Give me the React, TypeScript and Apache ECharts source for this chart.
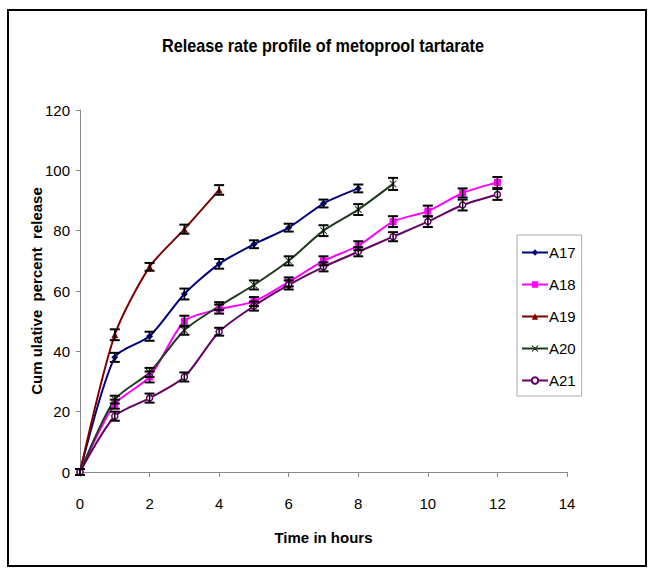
import React, { useEffect, useRef } from "react";
import * as echarts from "echarts";

const hours = [0, 1, 2, 3, 4, 5, 6, 7, 8, 9, 10, 11, 12];
const seriesNames = ["A17", "A18", "A19", "A20", "A21"];
const a17 = [0, 38, 45, 59, 69, 75.5, 81, 89, 94];
const a18 = [0, 22.5, 31.5, 50, 54, 56.5, 63, 70, 75, 83, 86.5, 92.5, 96];
const a19 = [0, 45.5, 68, 80.5, 93.5];
const a20 = [0, 24, 33, 47, 55, 62, 70, 80, 87, 95.5];
const a21 = [0, 18.5, 24.5, 31.5, 46.5, 55, 62, 68, 73, 78, 83, 88.5, 92];
const e17 = [1, 1.5, 1.5, 1.8, 1.6, 1.3, 1.3, 1.3, 1.3];
const e18 = [1, 1.5, 1.8, 1.8, 1.5, 1.5, 1.5, 1.5, 1.5, 1.8, 1.8, 1.5, 1.8];
const e19 = [1, 1.8, 1.3, 1.5, 1.6];
const e20 = [1, 1.3, 1.5, 1.5, 1.3, 1.5, 1.5, 1.8, 1.8, 2];
const e21 = [1, 1.5, 1.5, 1.5, 1.3, 1.5, 1.5, 1.5, 1.5, 1.5, 1.8, 1.8, 1.8];
const xTicks = [0, 2, 4, 6, 8, 10, 12, 14];
const titleText = "Release rate profile of metoprool tartarate";

const values = [a17, a18, a19, a20, a21];
const errors = [e17, e18, e19, e20, e21];
const colors = ["#000080", "#ff00ff", "#800000", "#1f3a1f", "#660066"];
const symbols = [
  "diamond",
  "rect",
  "triangle",
  "path://M0,0 L10,10 M10,0 L0,10 M0,0 L1,0 L10,9 L10,10 L9,10 L0,1 Z M10,0 L10,1 L1,10 L0,10 L0,9 L9,0 Z",
  "circle",
];

const FONT = "'Liberation Sans', Arial, sans-serif";

export default function App() {
  const ref = useRef<HTMLDivElement>(null);
  useEffect(() => {
    if (!ref.current) return;
    const chart = echarts.init(ref.current, null, { renderer: "svg" });
    const lineSeries = seriesNames.map((name, i) => ({
      name,
      type: "line",
      data: values[i].map((v, j) => [hours[j], v]),
      smooth: 0.25,
      symbol: symbols[i],
      symbolSize: i === 4 ? 6 : 7,
      itemStyle: {
        color: i === 4 ? "#ffffff" : colors[i],
        borderColor: colors[i],
        borderWidth: i === 4 ? 1.5 : 0,
      },
      lineStyle: { color: colors[i], width: 2 },
      z: 3,
    }));
    const errSeries = seriesNames.map((name, i) => ({
      name: name + " error",
      type: "custom",
      z: 4,
      data: values[i].map((v, j) => [hours[j], v, errors[i][j]]),
      renderItem: (params: any, api: any) => {
        const x = api.value(0);
        const y = api.value(1);
        const e = api.value(2);
        const hi = api.coord([x, y + e]);
        const lo = api.coord([x, y - e]);
        const w = 5;
        const st = { stroke: "#000", lineWidth: 2 };
        return {
          type: "group",
          children: [
            { type: "line", shape: { x1: hi[0], y1: hi[1], x2: lo[0], y2: lo[1] }, style: { stroke: "#000", lineWidth: 1.5 } },
            { type: "line", shape: { x1: hi[0] - w, y1: hi[1], x2: hi[0] + w, y2: hi[1] }, style: st },
            { type: "line", shape: { x1: lo[0] - w, y1: lo[1], x2: lo[0] + w, y2: lo[1] }, style: st },
          ],
        };
      },
    }));
    chart.setOption({
      animation: false,
      backgroundColor: "#ffffff",
      graphic: [
        {
          type: "text",
          x: 323,
          y: 46,
          scaleX: 0.9,
          style: {
            text: titleText,
            fontFamily: FONT,
            fontSize: 18,
            fontWeight: "bold",
            fill: "#000",
            align: "center",
            verticalAlign: "middle",
          },
          z: 100,
        },
        {
          type: "rect",
          shape: { x: 8, y: 10, width: 638, height: 556 },
          style: { fill: "none", stroke: "#000", lineWidth: 2 },
          z: 100,
        },
      ],
      legend: {
        data: seriesNames,
        orient: "vertical",
        left: 517,
        top: 235,
        width: 66,
        padding: [10, 6, 8, 4],
        itemGap: 17,
        itemWidth: 26,
        itemHeight: 8,
        borderColor: "#aaaaaa",
        borderWidth: 1,
        textStyle: { fontFamily: FONT, fontSize: 15, color: "#000", padding: [0, 0, 0, -4] },
      },
      grid: { left: 80, right: 82, top: 110, bottom: 97 },
      xAxis: {
        type: "value",
        min: 0,
        max: 14,
        interval: 2,
        name: "Time in hours",
        nameLocation: "middle",
        nameGap: 58,
        nameMoveOverlap: false,
        nameTextStyle: { fontFamily: FONT, fontSize: 15, fontWeight: "bold", color: "#000" },
        axisLine: { lineStyle: { color: "#888", width: 1 } },
        axisTick: { show: true, length: 5, lineStyle: { color: "#888" } },
        axisLabel: {
          margin: 24,
          fontFamily: FONT,
          fontSize: 15,
          color: "#000",
          formatter: (v: number) => (xTicks.includes(v) ? String(v) : ""),
        },
        splitLine: { show: false },
      },
      yAxis: {
        type: "value",
        min: 0,
        max: 120,
        interval: 20,
        name: "Cum ulative  percent  release",
        nameLocation: "middle",
        nameGap: 36,
        nameMoveOverlap: false,
        nameTextStyle: { fontFamily: FONT, fontSize: 15, fontWeight: "bold", color: "#000" },
        axisLine: { show: true, lineStyle: { color: "#888", width: 1 } },
        axisTick: { show: true, length: 4, lineStyle: { color: "#888" } },
        axisLabel: { margin: 10, fontFamily: FONT, fontSize: 15, color: "#000" },
        splitLine: { show: false },
      },
      series: [...lineSeries, ...errSeries],
    });
    return () => chart.dispose();
  }, []);
  return (
    <div
      ref={ref}
      style={{ position: "absolute", left: 0, top: 0, width: 649, height: 569 }}
    />
  );
}
